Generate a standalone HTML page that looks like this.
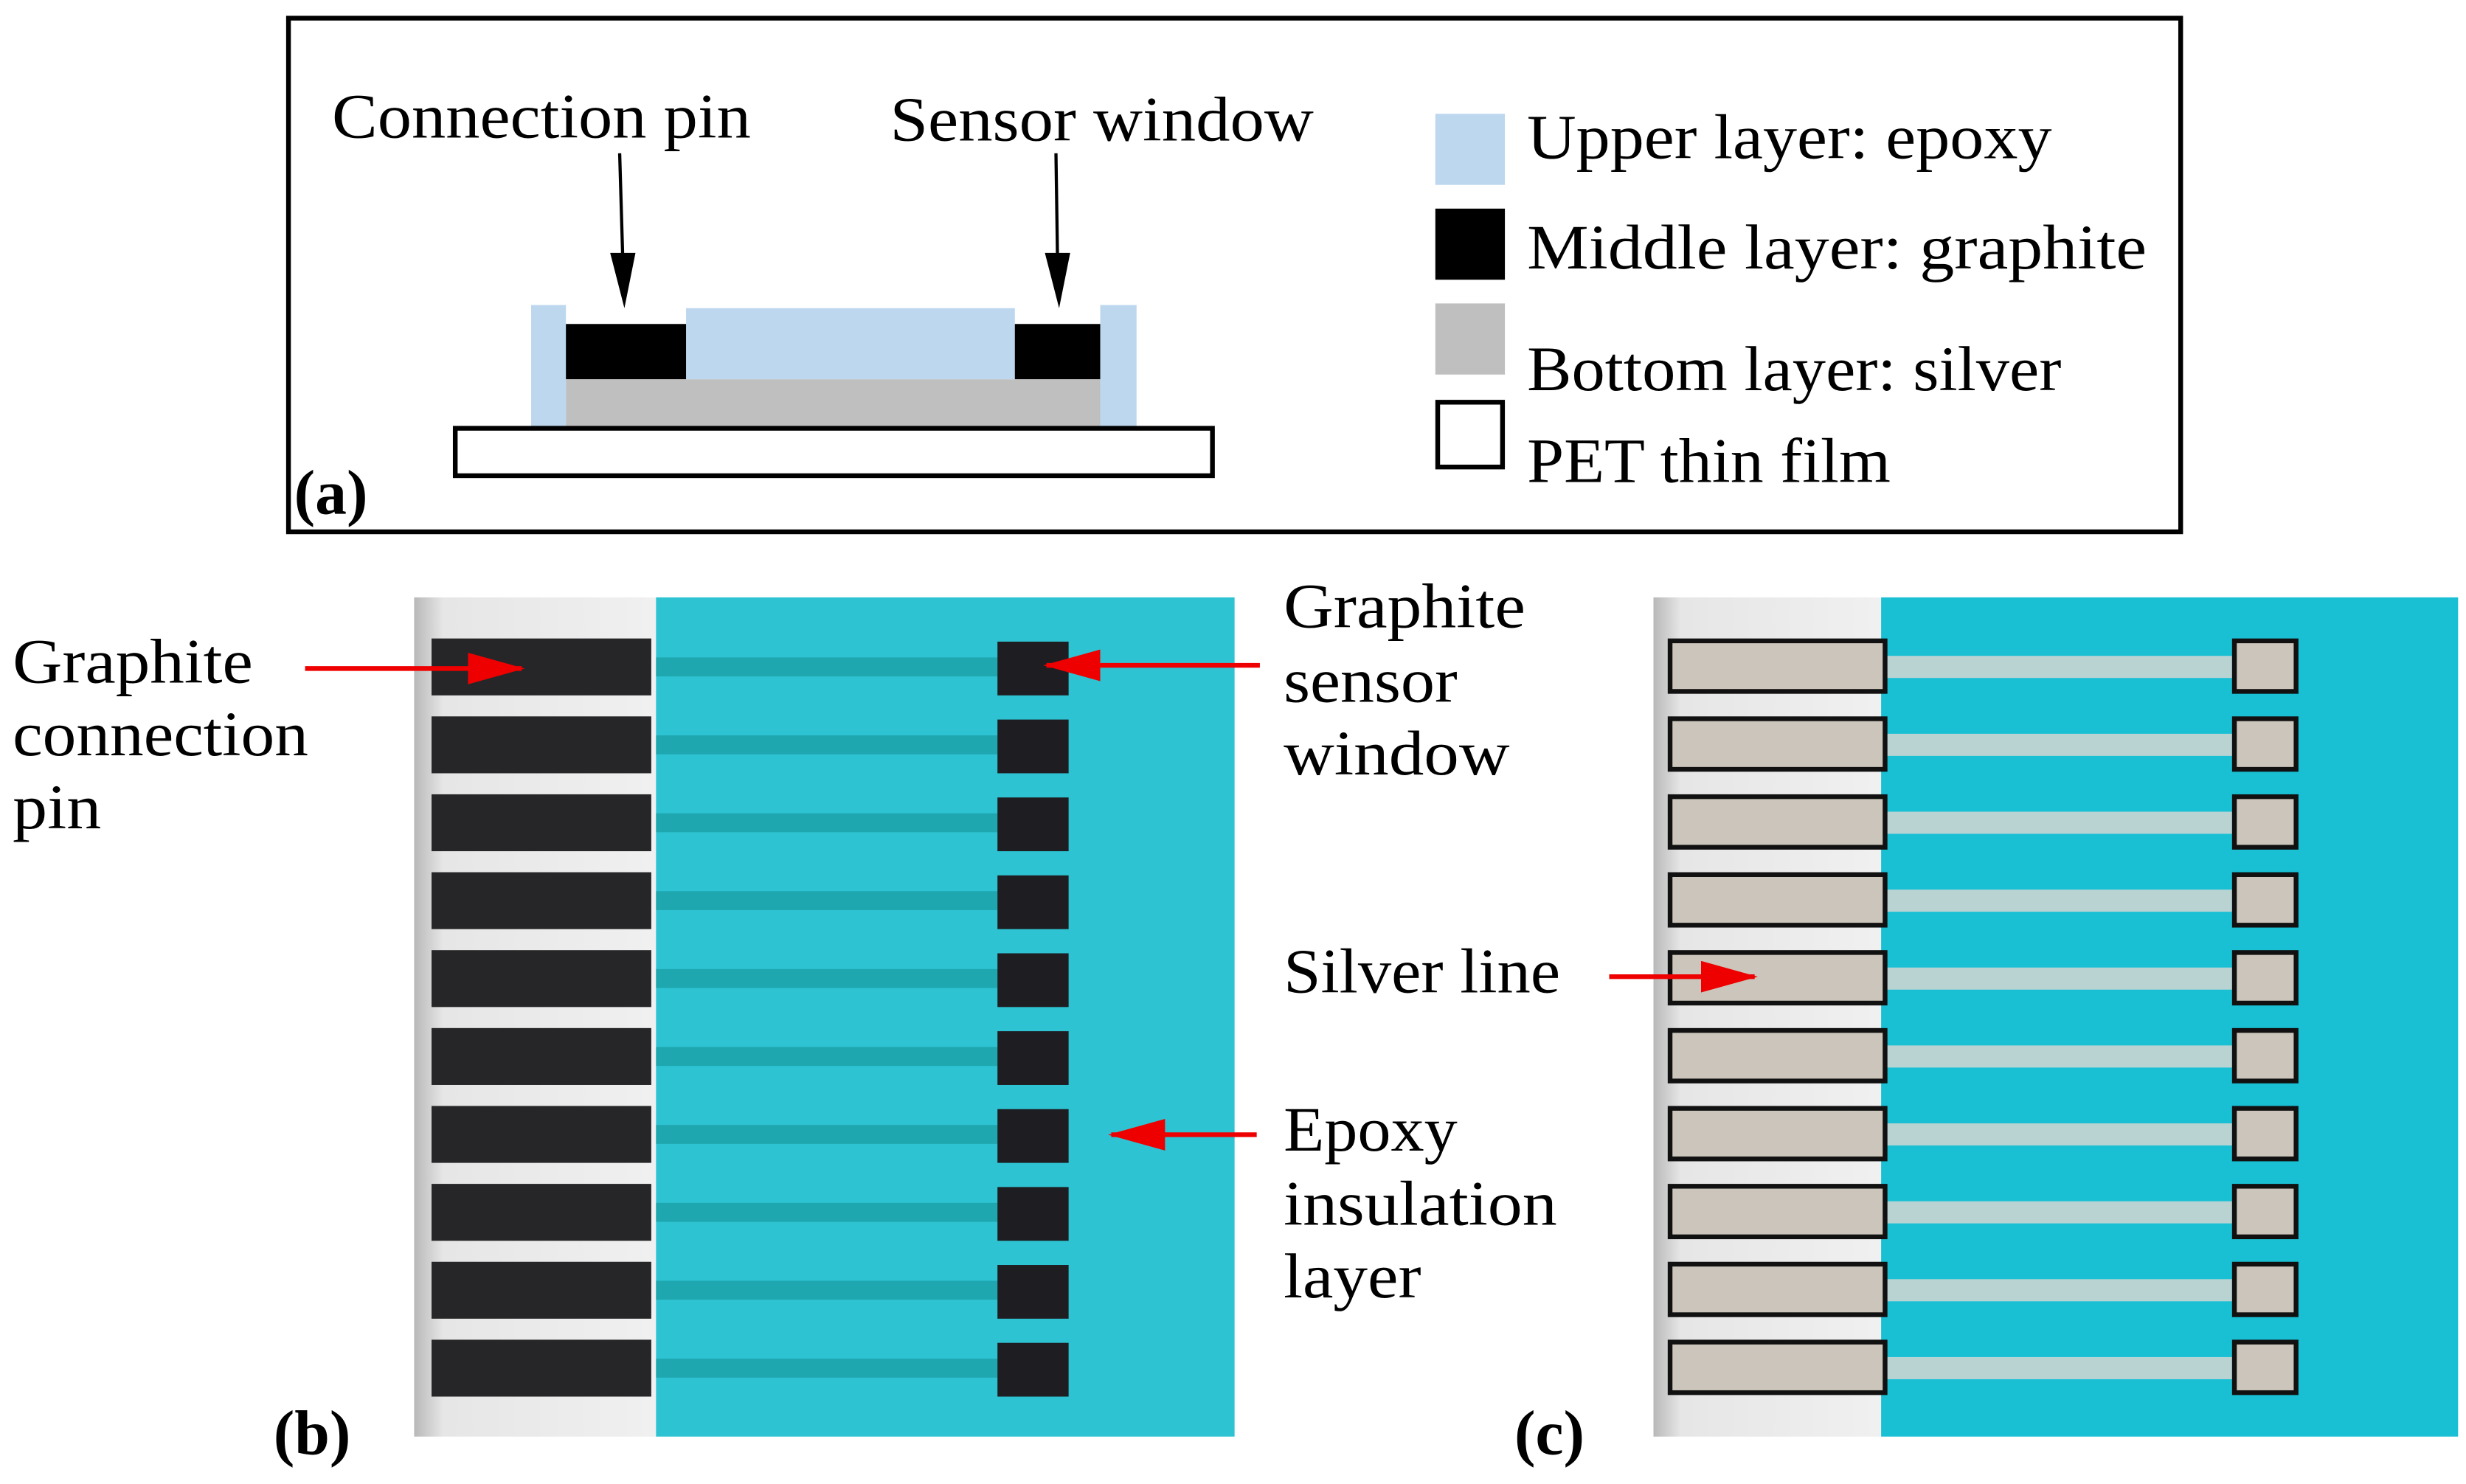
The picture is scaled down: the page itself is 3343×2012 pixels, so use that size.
<!DOCTYPE html>
<html><head><meta charset="utf-8"><style>
html,body{margin:0;padding:0;background:#fff;}
svg{display:block;}
text{font-family:"Liberation Serif",serif;font-size:40px;fill:#000;}
</style></head><body>
<svg width="3343" height="2012" viewBox="0 0 1560 939" preserveAspectRatio="none">
<defs>
<linearGradient id="gs" x1="0" x2="1" y1="0" y2="0"><stop offset="0" stop-color="#b8b8b8"/><stop offset="0.12" stop-color="#e6e6e6"/><stop offset="1" stop-color="#f0f0f0"/></linearGradient>
<marker id="ra" markerWidth="36" markerHeight="20" refX="34" refY="10" orient="auto" markerUnits="userSpaceOnUse"><path d="M0,0 L36,10 L0,20 z" fill="#e00"/></marker>
</defs>
<!-- panel a -->
<rect x="182.5" y="11.5" width="1197" height="325" fill="none" stroke="#000" stroke-width="3"/>
<text x="210" y="87" textLength="265" lengthAdjust="spacingAndGlyphs">Connection pin</text>
<text x="563" y="89" textLength="268" lengthAdjust="spacingAndGlyphs">Sensor window</text>
<line x1="392" y1="97" x2="394" y2="165" stroke="#000" stroke-width="2"/>
<polygon points="386,160 402,160 395,195" fill="#000"/>
<line x1="668" y1="97" x2="669" y2="165" stroke="#000" stroke-width="2"/>
<polygon points="661,160 677,160 670,195" fill="#000"/>
<rect x="336" y="193" width="22" height="77" fill="#bdd7ee"/>
<rect x="696" y="193" width="23" height="77" fill="#bdd7ee"/>
<rect x="434" y="195" width="208" height="45" fill="#bdd7ee"/>
<rect x="358" y="205" width="76" height="35" fill="#000"/>
<rect x="642" y="205" width="54" height="35" fill="#000"/>
<rect x="358" y="240" width="338" height="30" fill="#bfbfbf"/>
<rect x="288" y="271" width="479" height="30" fill="#fff" stroke="#000" stroke-width="3"/>
<rect x="908" y="72" width="44" height="45" fill="#bdd7ee"/>
<rect x="908" y="132" width="44" height="45" fill="#000"/>
<rect x="908" y="192" width="44" height="45" fill="#bfbfbf"/>
<rect x="909.5" y="254.5" width="41" height="41" fill="#fff" stroke="#000" stroke-width="3"/>
<text x="966" y="100" textLength="332" lengthAdjust="spacingAndGlyphs">Upper layer: epoxy</text>
<text x="966" y="170" textLength="392" lengthAdjust="spacingAndGlyphs">Middle layer: graphite</text>
<text x="966" y="247" textLength="338" lengthAdjust="spacingAndGlyphs">Bottom layer: silver</text>
<text x="966" y="305" textLength="230" lengthAdjust="spacingAndGlyphs">PET thin film</text>
<text x="186" y="325" font-weight="bold">(a)</text>
<!-- panel b -->
<rect x="262" y="378" width="153" height="531" fill="url(#gs)"/>
<rect x="415" y="378" width="366" height="531" fill="#2ec3d2"/>
<g id="brows">
<rect x="415" y="416" width="216" height="12" fill="#1fa7b0"/>
<rect x="273" y="404" width="139" height="36" fill="#262628"/>
<rect x="631" y="406" width="45" height="34" fill="#1e1e22"/>
</g>
<use href="#brows" y="49.3"/><use href="#brows" y="98.6"/><use href="#brows" y="147.9"/><use href="#brows" y="197.2"/>
<use href="#brows" y="246.5"/><use href="#brows" y="295.8"/><use href="#brows" y="345.1"/><use href="#brows" y="394.4"/><use href="#brows" y="443.7"/>
<!-- panel c -->
<rect x="1046" y="378" width="144" height="531" fill="url(#gs)"/>
<rect x="1190" y="378" width="365" height="531" fill="#19c0d4"/>
<g id="crows">
<rect x="1193" y="415" width="220" height="14" fill="#b9d3d3"/>
<rect x="1056.5" y="405.5" width="136" height="32" fill="#cbc5bb" stroke="#111" stroke-width="3"/>
<rect x="1413.5" y="405.5" width="39" height="32" fill="#cbc5bb" stroke="#111" stroke-width="3"/>
</g>
<use href="#crows" y="49.3"/><use href="#crows" y="98.6"/><use href="#crows" y="147.9"/><use href="#crows" y="197.2"/>
<use href="#crows" y="246.5"/><use href="#crows" y="295.8"/><use href="#crows" y="345.1"/><use href="#crows" y="394.4"/><use href="#crows" y="443.7"/>
<!-- labels -->
<text x="8" y="432" textLength="152" lengthAdjust="spacingAndGlyphs">Graphite</text>
<text x="8" y="478" textLength="187" lengthAdjust="spacingAndGlyphs">connection</text>
<text x="8" y="524" textLength="56" lengthAdjust="spacingAndGlyphs">pin</text>
<line x1="193" y1="423" x2="330" y2="423" stroke="#e00" stroke-width="3" marker-end="url(#ra)"/>
<text x="812" y="397" textLength="153" lengthAdjust="spacingAndGlyphs">Graphite</text>
<text x="812" y="444" textLength="110" lengthAdjust="spacingAndGlyphs">sensor</text>
<text x="812" y="490" textLength="143" lengthAdjust="spacingAndGlyphs">window</text>
<line x1="797" y1="421" x2="662" y2="421" stroke="#e00" stroke-width="3" marker-end="url(#ra)"/>
<text x="812" y="628" textLength="175" lengthAdjust="spacingAndGlyphs">Silver line</text>
<line x1="1018" y1="618" x2="1110" y2="618" stroke="#e00" stroke-width="3" marker-end="url(#ra)"/>
<text x="812" y="728" textLength="110" lengthAdjust="spacingAndGlyphs">Epoxy</text>
<text x="812" y="775" textLength="173" lengthAdjust="spacingAndGlyphs">insulation</text>
<text x="812" y="821" textLength="87" lengthAdjust="spacingAndGlyphs">layer</text>
<line x1="795" y1="718" x2="703" y2="718" stroke="#e00" stroke-width="3" marker-end="url(#ra)"/>
<text x="173" y="920" font-weight="bold">(b)</text>
<text x="958" y="920" font-weight="bold">(c)</text>
</svg>
</body></html>
